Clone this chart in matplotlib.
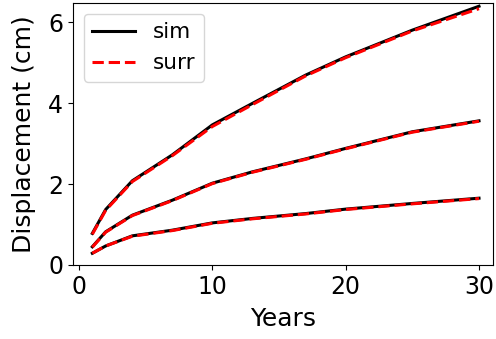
import matplotlib
matplotlib.use('Agg')
import matplotlib.pyplot as plt

# Time points (years) and displacement curves (cm)
years = [1, 2, 4, 7, 10, 13, 17, 20, 25, 30]

sim_high = [0.78, 1.37, 2.08, 2.72, 3.46, 3.99, 4.69, 5.14, 5.80, 6.39]
sim_mid = [0.45, 0.82, 1.23, 1.60, 2.02, 2.30, 2.62, 2.88, 3.29, 3.56]
sim_low = [0.29, 0.47, 0.72, 0.86, 1.04, 1.15, 1.27, 1.38, 1.52, 1.65]

surr_high = [0.76, 1.35, 2.06, 2.70, 3.42, 3.96, 4.67, 5.12, 5.78, 6.33]
surr_mid = [0.44, 0.81, 1.22, 1.59, 2.01, 2.29, 2.61, 2.87, 3.28, 3.55]
surr_low = [0.29, 0.47, 0.71, 0.85, 1.03, 1.14, 1.26, 1.37, 1.51, 1.64]

plt.rcParams['font.family'] = 'DejaVu Sans'

fig = plt.figure(figsize=(4.96, 3.39), dpi=100)
ax = fig.add_axes([73/496, 1 - 265/339, 420/496, 262/339])

sims = [sim_high, sim_mid, sim_low]
surrs = [surr_high, surr_mid, surr_low]
for i, (s, r) in enumerate(zip(sims, surrs)):
    ax.plot(years, s, color='black', lw=2.2, label='sim' if i == 0 else None)
    ax.plot(years, r, color='red', lw=2.2, ls='--', label='surr' if i == 0 else None)

ax.set_xlim(-0.45, 31.05)
ax.set_ylim(0, 6.47)
ax.set_xticks([0, 10, 20, 30])
ax.set_yticks([0, 2, 4, 6])
ax.tick_params(labelsize=17)
ax.set_xlabel('Years', fontsize=18, labelpad=6)
ax.set_ylabel('Displacement (cm)', fontsize=18, labelpad=9)
ax.legend(loc='upper left', fontsize=15.5)

plt.savefig('out.png', dpi=100)
plt.close()
